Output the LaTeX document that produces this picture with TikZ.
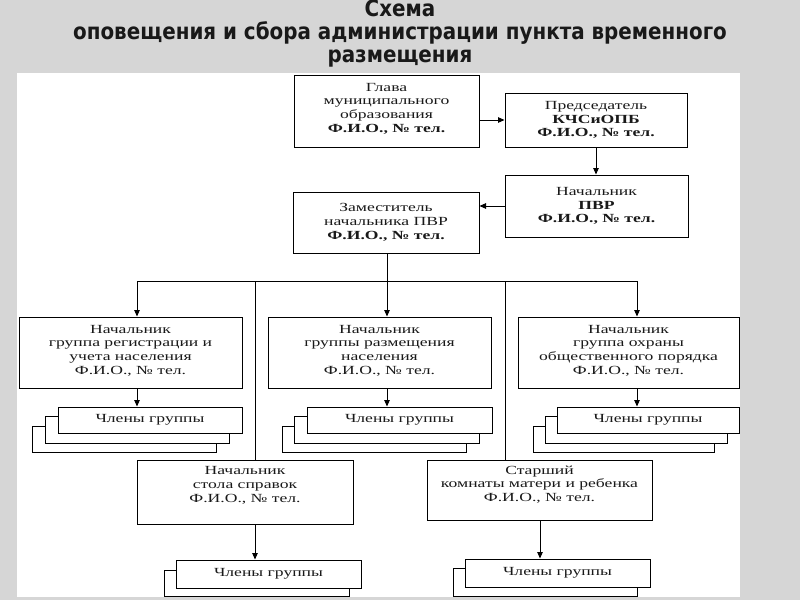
\documentclass[tikz,border=0pt]{standalone}
\usepackage{fontspec}
\setmainfont{Liberation Serif}
\newfontfamily\bx[FakeStretch=1.42]{Liberation Serif}
\newfontfamily\ttl[FakeStretch=0.88]{DejaVu Sans}
\usetikzlibrary{arrows.meta}
\definecolor{bggray}{RGB}{214,214,214}
\definecolor{txt}{RGB}{25,25,25}
\begin{document}
\begin{tikzpicture}[x=1pt,y=-1pt,
  boxfont/.style={font=\bx\fontsize{12.4}{13.7}\selectfont, text=txt, align=center, inner sep=0pt},
  box/.style={draw=black, line width=1pt, fill=white, boxfont},
  layer/.style={draw=black, line width=1pt, fill=white},
  ln/.style={line width=1pt},
  arr/.style={line width=1pt, -{Triangle[length=6.5pt,width=5.5pt]}}]
\fill[bggray] (0,0) rectangle (800,600);
\fill[white] (17,73) rectangle (740,597);
\useasboundingbox (0,0) rectangle (800,600);

% title
\node[font=\ttl\bfseries\fontsize{22.6}{23}\selectfont, align=center, anchor=north, inner sep=0pt, text=black!90] (title) at (400,0)
  {Схема\\оповещения и сбора администрации пункта временного\\размещения};

% top boxes
\node[box, minimum width=185pt, minimum height=72pt] (glava) at (386.5,111) {};
\node[boxfont] (glavat) at (386.5,108.5)
  {Глава\\муниципального\\образования\\\textbf{Ф.И.О., № тел.}};
\node[box, minimum width=182pt, minimum height=54pt] (pred) at (596,120)
  {Председатель\\\textbf{КЧСиОПБ}\\\textbf{Ф.И.О., № тел.}};
\node[box, minimum width=183pt, minimum height=62pt] (pvr) at (596.5,206)
  {Начальник\\\textbf{ПВР}\\\textbf{Ф.И.О., № тел.}};
\node[box, minimum width=186pt, minimum height=61pt] (zam) at (386,222.5)
  {Заместитель\\начальника ПВР\\\textbf{Ф.И.О., № тел.}};

% group boxes
\node[box, minimum width=223pt, minimum height=71pt] (gA) at (130.5,352.5) {};
\node[boxfont] (gAt) at (130.5,350.5)
  {Начальник\\группа регистрации и\\учета населения\\Ф.И.О., № тел.};
\node[box, minimum width=223pt, minimum height=71pt] (gB) at (379.5,352.5) {};
\node[boxfont] (gBt) at (379.5,350.5)
  {Начальник\\группы размещения\\населения\\Ф.И.О., № тел.};
\node[box, minimum width=221pt, minimum height=71pt] (gC) at (628.5,352.5) {};
\node[boxfont] (gCt) at (628.5,350.5)
  {Начальник\\группа охраны\\общественного порядка\\Ф.И.О., № тел.};

% member stacks
\draw[layer] (32,426) rectangle (216,452);
\draw[layer] (45,416) rectangle (229,443);
\node[box, minimum width=184pt, minimum height=26pt] (mA) at (150,420) {Члены группы};
\draw[layer] (282,426) rectangle (466,452);
\draw[layer] (294,416) rectangle (479,443);
\node[box, minimum width=185pt, minimum height=26pt] (mB) at (399.5,420) {Члены группы};
\draw[layer] (533,426) rectangle (714,452);
\draw[layer] (545,416) rectangle (727,443);
\node[box, minimum width=182pt, minimum height=26pt] (mC) at (648,420) {Члены группы};

% lower boxes
\node[box, minimum width=216pt, minimum height=64pt] (sprav) at (245,492) {};
\node[boxfont] (spravt) at (245,485.5) {Начальник\\стола справок\\Ф.И.О., № тел.};
\node[box, minimum width=225pt, minimum height=60pt] (star) at (539.5,490) {};
\node[boxfont] (start) at (539.5,484.5) {Старший\\комнаты матери и ребенка\\Ф.И.О., № тел.};

\draw[layer] (164,570) rectangle (349,596);
\node[box, minimum width=185pt, minimum height=28pt] (mD) at (268.5,574) {Члены группы};
\draw[layer] (453,568) rectangle (637,596);
\node[box, minimum width=185pt, minimum height=28pt] (mE) at (557.5,573) {Члены группы};

% connectors
\coordinate (bA) at (137,281);
\coordinate (bB) at (387,281);
\coordinate (bC) at (637,281);
\coordinate (bL) at (255,281);
\coordinate (bR) at (505,281);
\coordinate (sR) at (540,281);

\draw[arr] (pred.west -| glava.east) -- (pred.west);
\draw[arr] (pred.south) -- (pred.south |- pvr.north);
\draw[arr] (pvr.west) -- (pvr.west -| zam.east);
\draw[ln] (bB |- zam.south) -- (bB);
\draw[ln] (bA) -- (bC);
\draw[arr] (bA) -- (bA |- gA.north);
\draw[arr] (bB) -- (bB |- gB.north);
\draw[arr] (bC) -- (bC |- gC.north);
\draw[arr] (bA |- gA.south) -- (bA |- mA.north);
\draw[arr] (bB |- gB.south) -- (bB |- mB.north);
\draw[arr] (bC |- gC.south) -- (bC |- mC.north);
\draw[ln] (bL) -- (bL |- sprav.north);
\draw[ln] (bR) -- (bR |- star.north);
\draw[arr] (bL |- sprav.south) -- (bL |- mD.north);
\draw[arr] (sR |- star.south) -- (sR |- mE.north);
\end{tikzpicture}
\end{document}
